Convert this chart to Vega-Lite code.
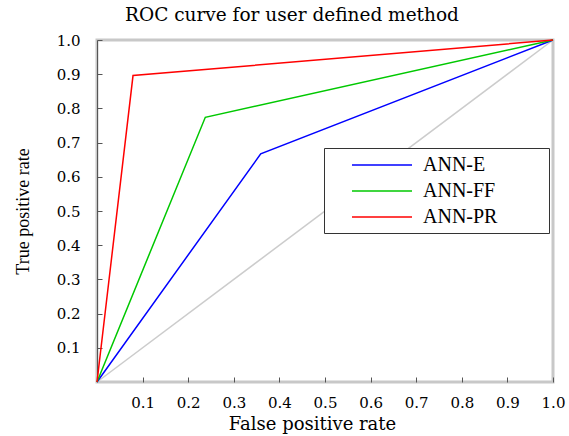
{
  "$schema": "https://vega.github.io/schema/vega-lite/v6.json",
  "autosize": "none",
  "width": 456,
  "height": 342,
  "padding": {"left": 97, "top": 40, "right": 16, "bottom": 54},
  "background": "white",
  "title": {"text": "ROC curve for user defined method", "font": "DejaVu Serif", "fontSize": 18.5, "fontWeight": "normal", "color": "black", "offset": 9, "dx": -33},
  "config": {
    "view": {"stroke": "#c8c8c8", "strokeWidth": 3},
    "axis": {"grid": false, "labelFont": "DejaVu Serif", "labelFontSize": 15, "labelColor": "black", "labelOverlap": false, "labelFlush": false, "titleFont": "DejaVu Serif", "titleFontSize": 18, "titleFontWeight": "normal", "titleColor": "black", "tickColor": "#555555", "tickSize": -5, "domain": false}
  },
  "datasets": {
    "roc": [
      {"series": "ANN-E", "fpr": 0, "tpr": 0},
      {"series": "ANN-E", "fpr": 0.359, "tpr": 0.667},
      {"series": "ANN-E", "fpr": 1, "tpr": 1},
      {"series": "ANN-FF", "fpr": 0, "tpr": 0},
      {"series": "ANN-FF", "fpr": 0.2375, "tpr": 0.774},
      {"series": "ANN-FF", "fpr": 1, "tpr": 1},
      {"series": "ANN-PR", "fpr": 0, "tpr": 0},
      {"series": "ANN-PR", "fpr": 0.079, "tpr": 0.896},
      {"series": "ANN-PR", "fpr": 1, "tpr": 1}
    ],
    "diag": [
      {"fpr": 0, "tpr": 0},
      {"fpr": 1, "tpr": 1}
    ]
  },
  "encoding": {
    "x": {"field": "fpr", "type": "quantitative", "scale": {"domain": [0, 1], "nice": false},
      "axis": {"title": "False positive rate", "values": [0.1, 0.2, 0.3, 0.4, 0.5, 0.6, 0.7, 0.8, 0.9, 1.0], "format": ".1f", "labelOverlap": false, "labelPadding": 18, "titleY": 33, "titleX": 215}},
    "y": {"field": "tpr", "type": "quantitative", "scale": {"domain": [0, 1], "nice": false},
      "axis": {"title": "True positive rate", "titleFont": "Liberation Serif", "titleFontSize": 18, "values": [0.1, 0.2, 0.3, 0.4, 0.5, 0.6, 0.7, 0.8, 0.9, 1.0], "format": ".1f", "labelOverlap": false, "labelPadding": 22, "titleX": -65, "domain": true, "domainColor": "#555555", "domainWidth": 1}}
  },
  "layer": [
    {
      "data": {"name": "diag"},
      "mark": {"type": "line", "color": "#cccccc", "strokeWidth": 1.5}
    },
    {
      "data": {"name": "roc"},
      "mark": {"type": "line", "strokeWidth": 1.5},
      "encoding": {
        "color": {"field": "series", "type": "nominal",
          "scale": {"domain": ["ANN-E", "ANN-FF", "ANN-PR"], "range": ["#0000ff", "#00c800", "#ff0000"]},
          "legend": {"title": null, "orient": "none", "legendX": 227, "legendY": 108, "strokeColor": "#333333", "fillColor": "white", "padding": 6, "symbolOffset": 41, "symbolType": "M-3,0H3", "symbolSize": 400, "symbolStrokeWidth": 1.5, "labelFont": "Liberation Serif", "labelFontSize": 20, "labelColor": "black", "labelOffset": 30, "rowPadding": 5, "labelExpr": "datum.label + '\u2800\u2800\u2800'"}},
        "order": {"field": "fpr", "type": "quantitative"}
      }
    }
  ]
}
